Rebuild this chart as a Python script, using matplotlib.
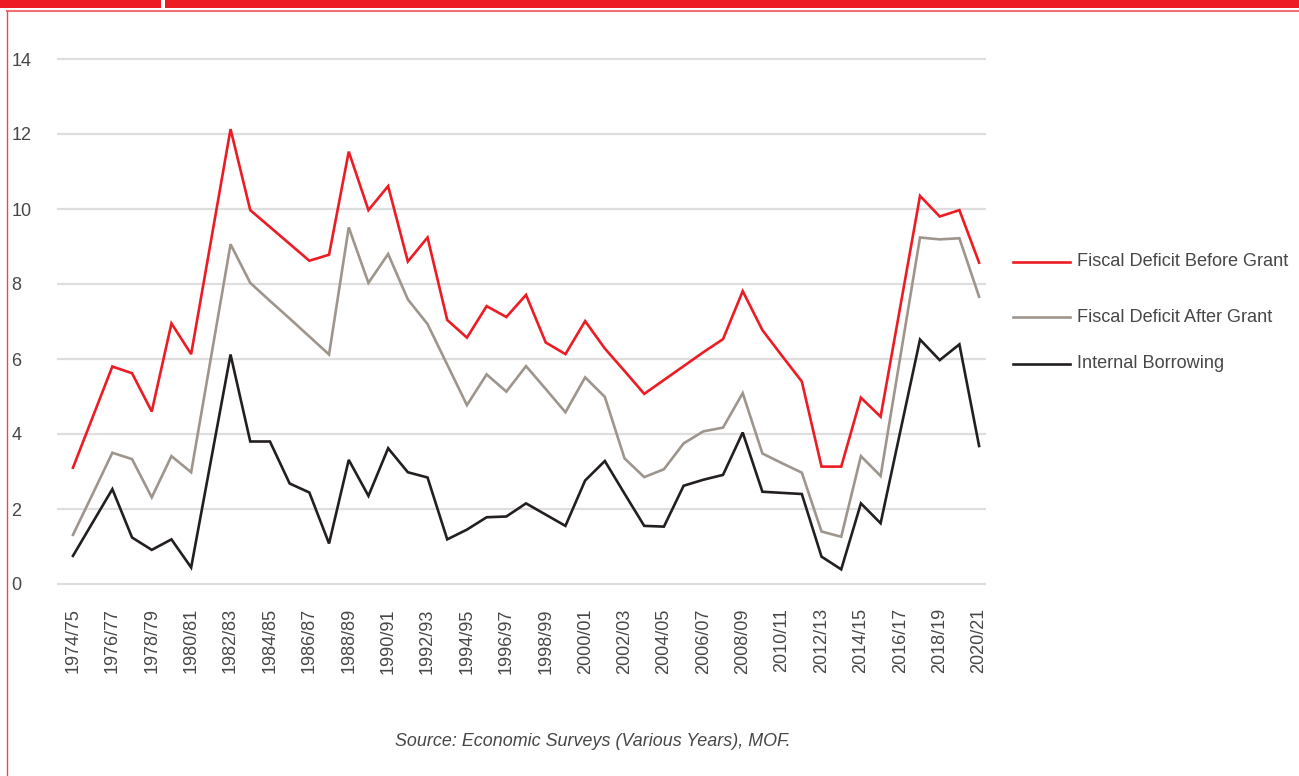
import matplotlib
matplotlib.use("Agg")
import matplotlib.pyplot as plt
from matplotlib.lines import Line2D
import numpy as np

# ---------------- data ----------------
years = [f"{y}/{str(y + 1)[-2:]}" for y in range(1974, 2021)]

before_grant = [3.10, 4.45, 5.80, 5.62, 4.60, 6.95, 6.13, 9.13, 12.13, 9.97,
                9.52, 9.07, 8.62, 8.78, 11.53, 9.97, 10.61, 8.60, 9.24, 7.04,
                6.57, 7.41, 7.12, 7.71, 6.44, 6.13, 7.01, 6.28, 5.68, 5.07,
                5.44, 5.81, 6.18, 6.53, 7.81, 6.77, 6.08, 5.40, 3.13, 3.13,
                4.97, 4.46, 7.40, 10.35, 9.80, 9.97, 8.57]

after_grant = [1.31, 2.40, 3.50, 3.33, 2.31, 3.41, 2.98, 6.02, 9.06, 8.03,
               7.55, 7.08, 6.60, 6.12, 9.51, 8.03, 8.80, 7.59, 6.93, 5.85,
               4.77, 5.59, 5.13, 5.81, 5.20, 4.58, 5.51, 4.99, 3.35, 2.85,
               3.06, 3.75, 4.07, 4.17, 5.09, 3.48, 3.22, 2.97, 1.40, 1.26,
               3.41, 2.88, 6.06, 9.24, 9.19, 9.22, 7.66]

internal_borrowing = [0.75, 1.64, 2.53, 1.24, 0.91, 1.19, 0.44, 3.28, 6.12, 3.80,
                      3.80, 2.68, 2.44, 1.08, 3.31, 2.35, 3.62, 2.98, 2.84, 1.19,
                      1.45, 1.78, 1.80, 2.15, 1.85, 1.55, 2.76, 3.28, 2.41, 1.55,
                      1.53, 2.62, 2.78, 2.91, 4.04, 2.46, 2.43, 2.40, 0.73, 0.39,
                      2.15, 1.62, 4.07, 6.52, 5.97, 6.39, 3.68]

series_labels = ["Fiscal Deficit Before Grant", "Fiscal Deficit After Grant",
                 "Internal Borrowing"]
y_ticks = [0, 2, 4, 6, 8, 10, 12, 14]

# ---------------- style ----------------
RED = "#ed1c24"
TAUPE = "#9e958c"
DARK = "#231f20"
GRID = "#dedede"
TEXT = "#474747"
FONT = ["Liberation Sans", "DejaVu Sans"]

plt.rcParams["font.family"] = FONT

W, H = 1299, 776
fig = plt.figure(figsize=(W / 100, H / 100), dpi=100)

# axes placement (pixel based)
ax_left, ax_right = 57, 986
ax_top, ax_bottom = 51.5, 591.5
ax = fig.add_axes([ax_left / W, 1 - ax_bottom / H,
                   (ax_right - ax_left) / W, (ax_bottom - ax_top) / H])

x = np.arange(len(years))
colors = [RED, TAUPE, DARK]
for vals, c, lab in zip([before_grant, after_grant, internal_borrowing], colors, series_labels):
    ax.plot(x, vals, color=c, lw=1.9, solid_joinstyle="miter", label=lab, zorder=3)

ax.set_xlim(-0.81, 46.35)
ax.set_ylim(-0.2, 14.2)

for yv in y_ticks:
    ax.axhline(yv, color=GRID, lw=1.6, zorder=1)

ax.set_yticks(y_ticks)
ax.set_yticklabels([str(v) for v in y_ticks], fontsize=13, color=TEXT, ha="left")
ax.tick_params(axis="y", length=0, pad=33)

ax.set_xticks(x[::2])
ax.set_xticklabels(years[::2], rotation=90, fontsize=13, color=TEXT)
ax.tick_params(axis="x", length=0, pad=12)

for s in ax.spines.values():
    s.set_visible(False)

# ---------------- legend (manual) ----------------
leg_y = [262, 317, 364]
for yy, c, lab in zip(leg_y, colors, series_labels):
    fig.add_artist(Line2D([1013 / W, 1070 / W], [1 - yy / H, 1 - yy / H],
                          color=c, lw=1.9, transform=fig.transFigure))
    fig.text(1077 / W, 1 - yy / H, lab, fontsize=13.1, color=TEXT,
             va="center", ha="left")

# ---------------- source ----------------
fig.text(593 / W, 1 - 741 / H, "Source: Economic Surveys (Various Years), MOF.",
         fontsize=12.85, style="italic", color=TEXT, ha="center", va="center")

# ---------------- frame decoration ----------------
fig.add_artist(plt.Rectangle((0, 1 - 8 / H), 1, 8 / H, transform=fig.transFigure,
                             color=RED, lw=0, zorder=10))
fig.add_artist(plt.Rectangle((161 / W, 1 - 8 / H), 4 / W, 8 / H, transform=fig.transFigure,
                             color="white", lw=0, zorder=11))
fig.add_artist(Line2D([7 / W, 1], [1 - 11 / H, 1 - 11 / H], color="#f07076", lw=1.5,
                      transform=fig.transFigure))
fig.add_artist(Line2D([7 / W, 7 / W], [1 - 11 / H, 0], color="#e9494f", lw=1.0,
                      transform=fig.transFigure))

fig.savefig("out.png", dpi=100)
